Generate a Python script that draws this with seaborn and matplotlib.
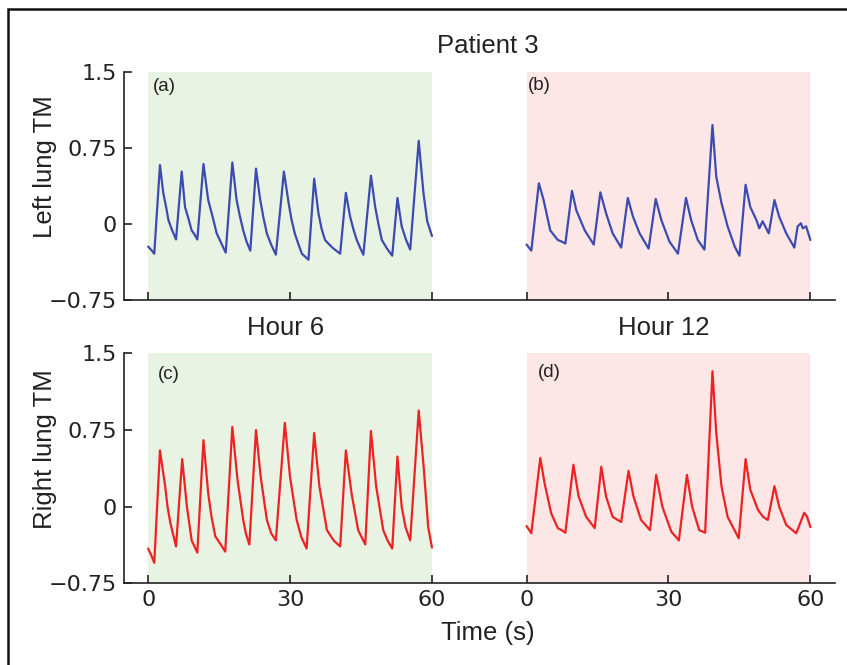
import matplotlib
matplotlib.use("Agg")
import matplotlib.pyplot as plt
import seaborn as sns
import numpy as np
from matplotlib.patches import Rectangle

# Patient 3 - left / right lung TM traces, hour 6 vs hour 12

# (a) left lung, hour 6
t_a = [0.0, 0.6, 1.3, 2.5, 3.2, 3.8, 4.3, 5.0, 5.9,
       7.1, 7.8, 8.5, 9.2, 9.8, 10.4,
       11.7, 12.7, 13.6, 14.5, 15.5, 16.4,
       17.8, 18.7, 19.4, 20.1, 20.8, 21.6,
       22.8, 23.7, 24.4, 25.1, 26.0, 27.0,
       28.7, 29.7, 30.3, 31.0, 31.8, 32.5, 33.9,
       35.1, 36.0, 36.7, 37.4, 38.3, 39.2, 40.6,
       41.8, 42.7, 43.4, 44.1, 44.8, 45.5,
       47.1, 48.0, 48.7, 49.4, 50.5, 51.6,
       52.7, 53.6, 54.5, 55.4,
       57.2, 58.2, 59.0, 60.0]
v_a = [-0.22, -0.25, -0.29, 0.585, 0.31, 0.17, 0.04, -0.05, -0.15,
       0.52, 0.17, 0.06, -0.06, -0.10, -0.15,
       0.595, 0.24, 0.08, -0.09, -0.19, -0.28,
       0.61, 0.24, 0.08, -0.06, -0.17, -0.26,
       0.55, 0.24, 0.06, -0.09, -0.20, -0.30,
       0.52, 0.21, 0.05, -0.09, -0.20, -0.29, -0.35,
       0.45, 0.11, -0.05, -0.155, -0.20, -0.24, -0.29,
       0.31, 0.075, -0.05, -0.155, -0.23, -0.30,
       0.48, 0.17, 0.0, -0.155, -0.24, -0.31,
       0.26, -0.02, -0.15, -0.25,
       0.825, 0.31, 0.03, -0.115]

# (b) left lung, hour 12
t_b = [0.0, 1.0, 2.6, 3.6, 5.0, 6.6, 7.4, 8.2,
       9.6, 10.5, 12.3, 14.2,
       15.6, 16.8, 18.2, 20.0,
       21.4, 22.5, 23.9, 25.8,
       27.3, 28.5, 30.2, 32.0,
       33.7, 34.8, 36.2, 37.6,
       39.3, 40.1, 41.2, 42.5, 44.0, 45.0,
       46.3, 47.3, 48.6, 49.2, 49.9, 51.2,
       52.4, 53.4, 54.9, 56.6,
       57.3, 58.0, 58.4, 59.1, 60.0]
v_b = [-0.20, -0.26, 0.405, 0.24, -0.06, -0.155, -0.17, -0.19,
       0.33, 0.14, -0.06, -0.20,
       0.315, 0.11, -0.09, -0.23,
       0.26, 0.075, -0.09, -0.24,
       0.25, 0.04, -0.17, -0.29,
       0.26, 0.04, -0.155, -0.25,
       0.98, 0.47, 0.21, -0.02, -0.22, -0.31,
       0.39, 0.17, 0.04, -0.04, 0.03, -0.09,
       0.24, 0.075, -0.09, -0.23,
       -0.02, 0.01, -0.04, -0.02, -0.155]

# (c) right lung, hour 6
t_c = [0.0, 0.8, 1.3, 2.5, 3.6, 4.1, 4.7, 5.9,
       7.2, 8.2, 9.2, 10.4,
       11.7, 12.7, 13.4, 14.2, 15.2, 16.3,
       17.8, 18.9, 20.1, 20.7, 21.4,
       22.8, 23.8, 25.1, 26.0, 27.0,
       28.9, 30.0, 31.4, 32.4, 33.5,
       35.1, 36.2, 37.8, 39.2, 40.6,
       41.8, 43.0, 44.4, 45.9,
       47.1, 48.2, 49.7, 50.6, 51.6,
       52.7, 53.6, 54.4, 55.4,
       57.2, 58.3, 59.2, 60.0]
v_c = [-0.41, -0.49, -0.55, 0.55, 0.20, 0.0, -0.16, -0.39,
       0.465, 0.0, -0.33, -0.45,
       0.65, 0.13, -0.10, -0.29, -0.36, -0.44,
       0.78, 0.26, -0.13, -0.27, -0.37,
       0.75, 0.29, -0.13, -0.26, -0.33,
       0.82, 0.29, -0.13, -0.30, -0.41,
       0.72, 0.20, -0.23, -0.33, -0.39,
       0.55, 0.13, -0.23, -0.37,
       0.74, 0.20, -0.23, -0.33, -0.41,
       0.49, 0.0, -0.20, -0.33,
       0.94, 0.36, -0.20, -0.40]

# (d) right lung, hour 12
t_d = [0.0, 1.0, 2.9, 3.8, 5.2, 6.6, 7.4, 8.2,
       9.9, 11.0, 12.6, 14.4,
       15.8, 16.8, 18.2, 20.0,
       21.55, 22.6, 24.2, 26.1,
       27.4, 28.7, 30.6, 32.2,
       33.9, 35.0, 36.5, 37.75,
       39.3, 40.1, 41.2, 42.5, 44.85,
       46.3, 47.3, 48.9, 50.0, 51.0,
       52.4, 53.4, 54.9, 57.0,
       58.7, 59.3, 60.0]
v_d = [-0.19, -0.26, 0.475, 0.23, -0.065, -0.21, -0.23, -0.255,
       0.41, 0.10, -0.10, -0.21,
       0.39, 0.10, -0.10, -0.15,
       0.35, 0.10, -0.13, -0.23,
       0.31, 0.0, -0.245, -0.33,
       0.31, 0.0, -0.23, -0.255,
       1.325, 0.72, 0.20, -0.10, -0.31,
       0.465, 0.165, -0.03, -0.10, -0.13,
       0.20, 0.0, -0.18, -0.26,
       -0.06, -0.10, -0.20]

x_ticks = [0, 30, 60]
y_ticks = [-0.75, 0, 0.75, 1.5]
y_ticklabels = ["\u22120.75", "0", "0.75", "1.5"]

sns.set_style("ticks")
plt.rcParams["font.family"] = ["Liberation Sans", "DejaVu Sans"]

W, H = 847, 665
fig = plt.figure(figsize=(W / 100, H / 100), dpi=100)

offset = 80  # second panel is drawn to the right of the first on the same axis
green = "#e9f3e3"
pink = "#fde6e6"
blue = "#3b4bb0"
red = "#ee2222"
ink = "#222222"
tick_font = {"family": "DejaVu Sans", "size": 16}

ax_top = fig.add_axes([124 / W, 1 - 300.3 / H, 711 / W, 228 / H])
ax_bot = fig.add_axes([124 / W, 1 - 583.3 / H, 711 / W, 230 / H])

rows = [
    (ax_top, t_a, v_a, t_b, v_b, blue, "Left lung TM"),
    (ax_bot, t_c, v_c, t_d, v_d, red, "Right lung TM"),
]

for ax, tl, vl, tr, vr, col, ylab in rows:
    ax.axvspan(0, 60, color=green, lw=0, zorder=0)
    ax.axvspan(offset, offset + 60, color=pink, lw=0, zorder=0)
    sns.lineplot(x=tl, y=vl, ax=ax, color=col, linewidth=1.6)
    sns.lineplot(x=np.array(tr) + offset, y=vr, ax=ax, color=col, linewidth=1.6)
    ax.set_xlim(-5.1, 145.2)
    ax.set_ylim(-0.75, 1.5)
    ax.set_xticks(x_ticks + [x + offset for x in x_ticks])
    ax.set_yticks(y_ticks)
    ax.set_yticklabels(y_ticklabels, fontdict=tick_font)
    ax.tick_params(direction="in", length=6, width=1.2, pad=5, colors=ink)
    ax.spines["top"].set_visible(False)
    ax.spines["right"].set_visible(False)
    ax.spines["left"].set_bounds(-0.75, 1.5)
    for s in ["left", "bottom"]:
        ax.spines[s].set_linewidth(1.2)
        ax.spines[s].set_color(ink)
    ax.set_facecolor("none")
    ax.set_xlabel("")
    ax.set_ylabel(ylab, fontsize=18.5, color=ink, ha="center", va="center")
    ax.yaxis.set_label_coords(-0.111, 0.585)

ax_top.text(1.0, 1.36, "(a)", fontsize=13.5, va="center", ha="left", color=ink)
ax_top.text(offset + 0.2, 1.37, "(b)", fontsize=13.5, va="center", ha="left", color=ink)
ax_bot.text(2.1, 1.29, "(c)", fontsize=13.5, va="center", ha="left", color=ink)
ax_bot.text(offset + 2.3, 1.31, "(d)", fontsize=13.5, va="center", ha="left", color=ink)

ax_top.set_xticklabels([])
ax_bot.set_xticklabels(["0", "30", "60", "0", "30", "60"], fontdict=tick_font)

fig.text(488 / W, 1 - 46 / H, "Patient 3", fontsize=18.5, ha="center", va="center", color=ink)
fig.text(286 / W, 1 - 328 / H, "Hour 6", fontsize=18.5, ha="center", va="center", color=ink)
fig.text(664 / W, 1 - 328 / H, "Hour 12", fontsize=18.5, ha="center", va="center", color=ink)
fig.text(488 / W, 1 - 633 / H, "Time (s)", fontsize=18.5, ha="center", va="center", color=ink)

# outer frame (only top and left edges fall inside the image)
fig.add_artist(Rectangle((7.5 / W, -0.1), 1.2, 1.1 - 9 / H, transform=fig.transFigure,
                         fill=False, edgecolor="#111111", linewidth=1.8))

fig.savefig("out.png", dpi=100)
